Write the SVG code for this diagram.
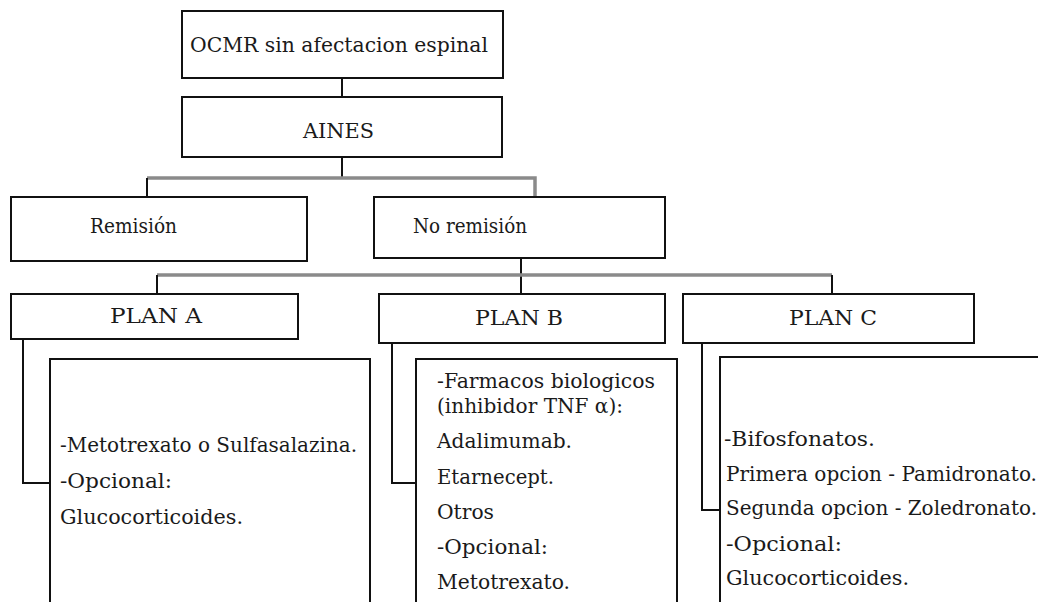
<svg xmlns="http://www.w3.org/2000/svg" width="1038" height="602" viewBox="0 0 1038 602">
<style>
.box{fill:#fff;stroke:#111;stroke-width:2}
.t{font-family:"DejaVu Serif","Liberation Serif",serif;font-size:20px;fill:#1a1a1a}
.h{font-size:21px}
.blk{stroke:#111;stroke-width:2;fill:none}
.gry{stroke:#8a8a8a;stroke-width:3.5;fill:none}
</style>
<rect width="1038" height="602" fill="#fff"/>
<g id="connectors">
<line class="blk" x1="342" y1="78" x2="342" y2="97"/>
<line class="blk" x1="342" y1="157" x2="342" y2="178"/>
<polyline class="gry" points="147,178 535,178 535,197"/>
<line class="blk" x1="147" y1="178" x2="147" y2="197"/>
<line class="blk" x1="521" y1="258" x2="521" y2="294"/>
<line class="gry" x1="157" y1="275" x2="832" y2="275"/>
<line class="blk" x1="157" y1="275" x2="157" y2="294"/>
<line class="blk" x1="832" y1="275" x2="832" y2="294"/>
<polyline class="blk" points="23,339 23,483 50,483"/>
<polyline class="blk" points="392,343 392,483 416,483"/>
<polyline class="blk" points="702,343 702,510 720,510"/>
</g>
<g id="ocmr">
<rect class="box" x="182" y="11" width="321" height="67"/>
<text class="t h" x="190" y="52" textLength="298" lengthAdjust="spacingAndGlyphs">OCMR sin afectacion espinal</text>
</g>
<g id="aines">
<rect class="box" x="182" y="97" width="320" height="60"/>
<text class="t h" x="303" y="138" textLength="71" lengthAdjust="spacingAndGlyphs">AINES</text>
</g>
<g id="remision">
<rect class="box" x="11" y="197" width="296" height="64"/>
<text class="t h" x="90" y="233" textLength="87" lengthAdjust="spacingAndGlyphs">Remisión</text>
</g>
<g id="no-remision">
<rect class="box" x="374" y="197" width="291" height="61"/>
<text class="t h" x="413" y="233" textLength="114" lengthAdjust="spacingAndGlyphs">No remisión</text>
</g>
<g id="plan-a">
<rect class="box" x="11" y="294" width="287" height="45"/>
<text class="t h" x="110" y="323" textLength="92" lengthAdjust="spacingAndGlyphs">PLAN A</text>
</g>
<g id="plan-b">
<rect class="box" x="379" y="294" width="286" height="49"/>
<text class="t h" x="475" y="325" textLength="88" lengthAdjust="spacingAndGlyphs">PLAN B</text>
</g>
<g id="plan-c">
<rect class="box" x="683" y="294" width="291" height="49"/>
<text class="t h" x="789" y="325" textLength="88" lengthAdjust="spacingAndGlyphs">PLAN C</text>
</g>
<g id="detail-a">
<rect class="box" x="50" y="359" width="320" height="260"/>
<text class="t" x="60" y="452" textLength="297" lengthAdjust="spacingAndGlyphs">-Metotrexato o Sulfasalazina.</text>
<text class="t" x="60" y="488" textLength="112" lengthAdjust="spacingAndGlyphs">-Opcional:</text>
<text class="t" x="60" y="524" textLength="183" lengthAdjust="spacingAndGlyphs">Glucocorticoides.</text>
</g>
<g id="detail-b">
<rect class="box" x="416" y="359" width="261" height="260"/>
<text class="t" x="437" y="388" textLength="218" lengthAdjust="spacingAndGlyphs">-Farmacos biologicos</text>
<text class="t" x="437" y="413" textLength="186" lengthAdjust="spacingAndGlyphs">(inhibidor TNF α):</text>
<text class="t" x="437" y="448" textLength="135" lengthAdjust="spacingAndGlyphs">Adalimumab.</text>
<text class="t" x="437" y="484" textLength="117" lengthAdjust="spacingAndGlyphs">Etarnecept.</text>
<text class="t" x="437" y="519" textLength="57" lengthAdjust="spacingAndGlyphs">Otros</text>
<text class="t" x="437" y="554" textLength="111" lengthAdjust="spacingAndGlyphs">-Opcional:</text>
<text class="t" x="437" y="589" textLength="133" lengthAdjust="spacingAndGlyphs">Metotrexato.</text>
</g>
<g id="detail-c">
<rect class="box" x="720" y="357" width="340" height="260"/>
<text class="t" x="724" y="446" textLength="151" lengthAdjust="spacingAndGlyphs">-Bifosfonatos.</text>
<text class="t" x="726" y="481" textLength="311" lengthAdjust="spacingAndGlyphs">Primera opcion - Pamidronato.</text>
<text class="t" x="726" y="515" textLength="311" lengthAdjust="spacingAndGlyphs">Segunda opcion - Zoledronato.</text>
<text class="t" x="726" y="551" textLength="116" lengthAdjust="spacingAndGlyphs">-Opcional:</text>
<text class="t" x="726" y="585" textLength="183" lengthAdjust="spacingAndGlyphs">Glucocorticoides.</text>
</g>
</svg>
